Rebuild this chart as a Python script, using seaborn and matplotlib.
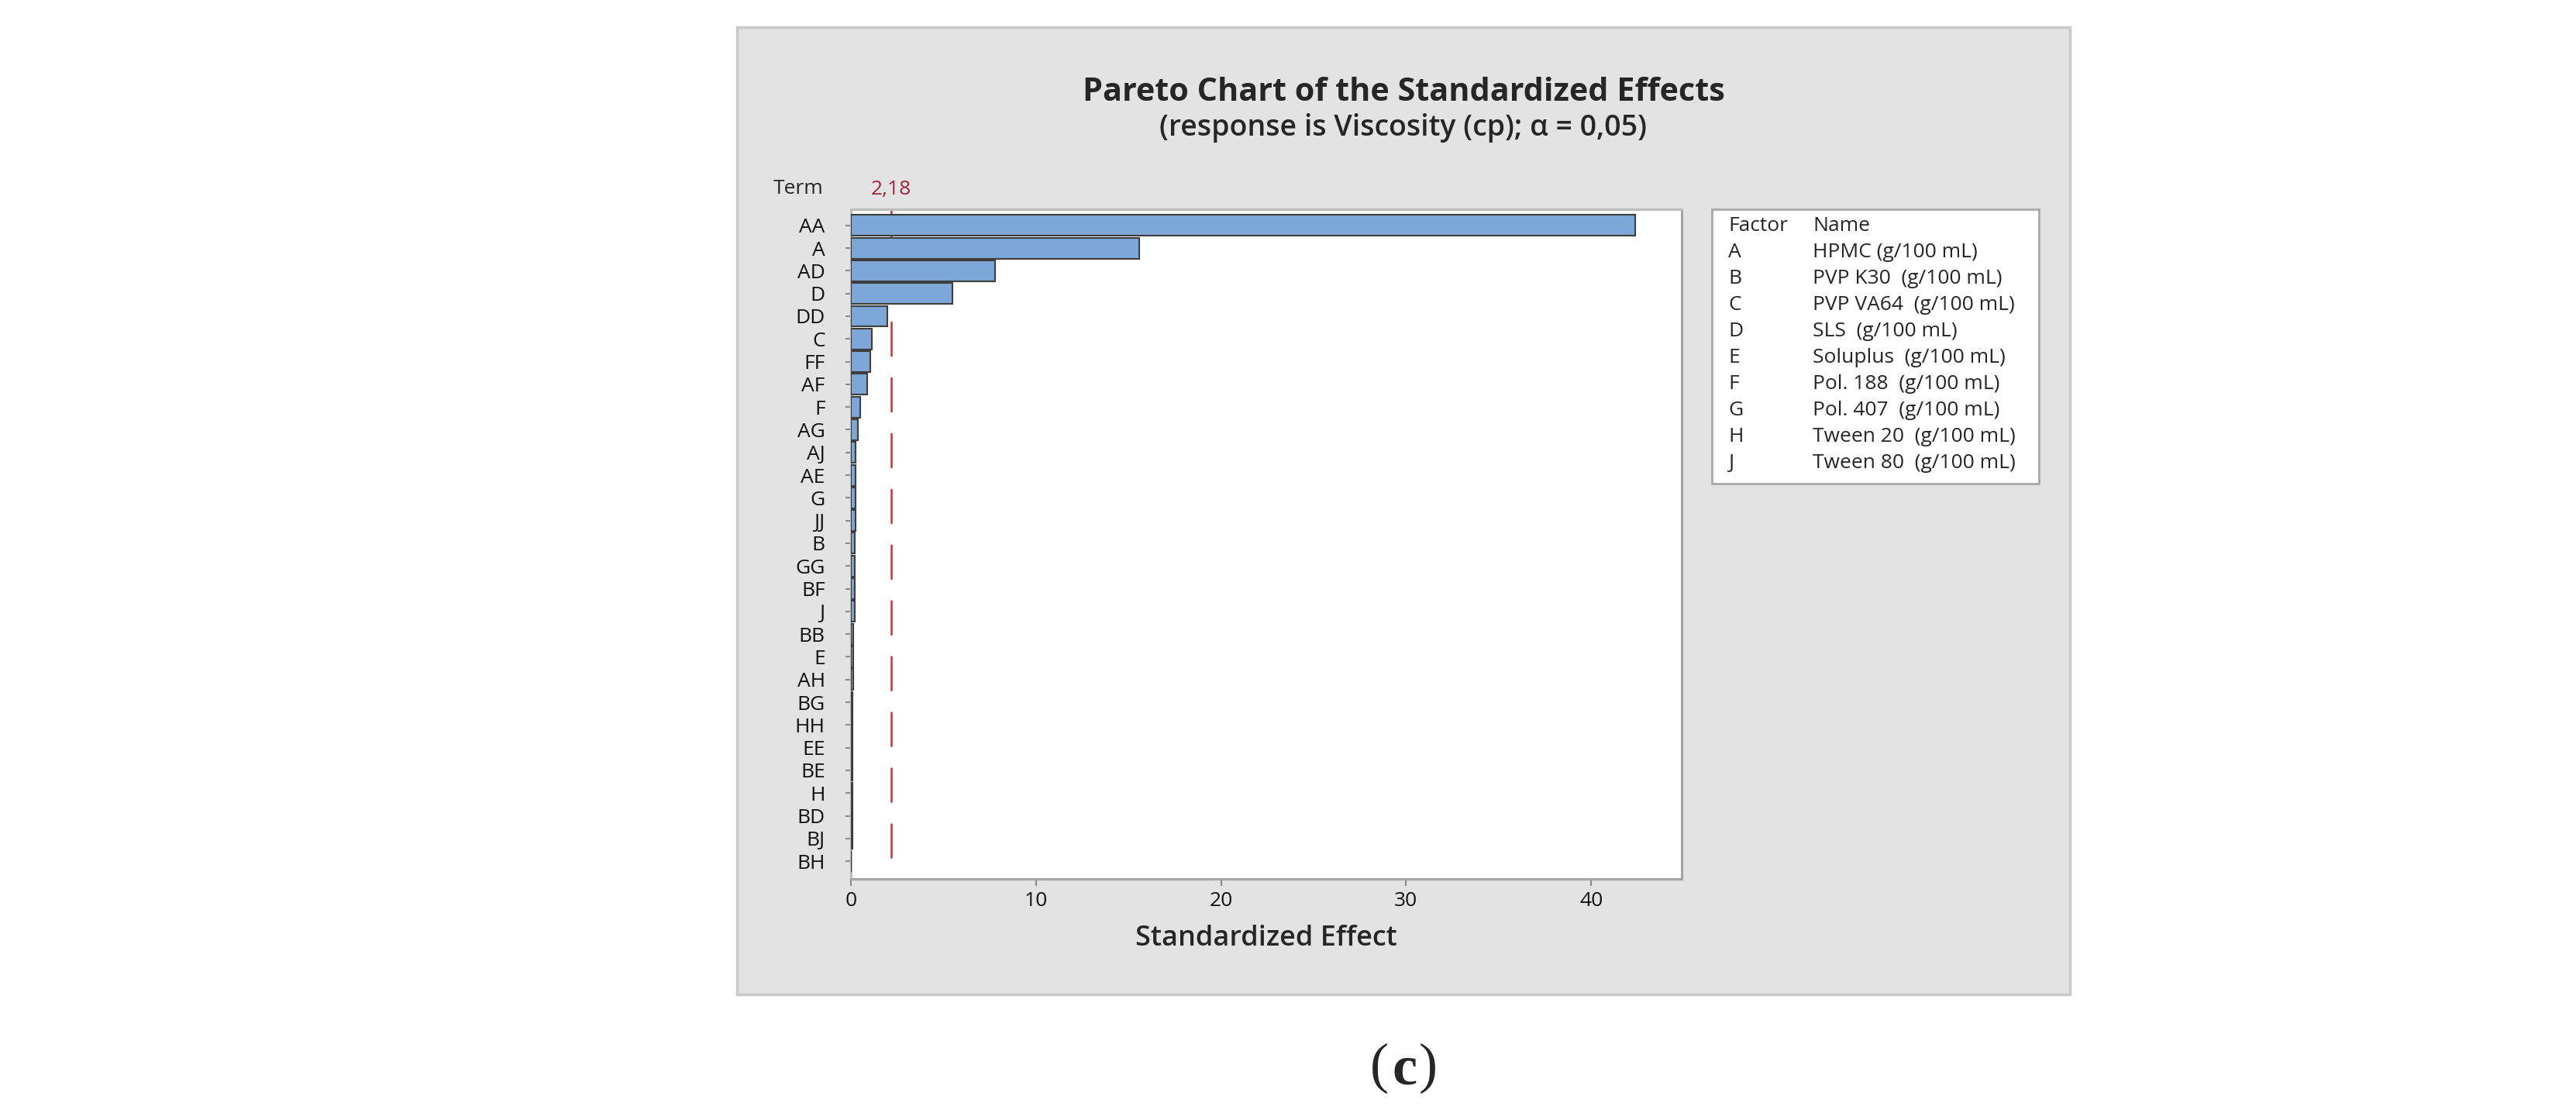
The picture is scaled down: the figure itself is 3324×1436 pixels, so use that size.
import matplotlib
matplotlib.use("Agg")
import matplotlib.pyplot as plt
import seaborn as sns
from matplotlib.patches import Rectangle

terms = ["AA", "A", "AD", "D", "DD", "C", "FF", "AF", "F", "AG", "AJ", "AE", "G", "JJ", "B",
         "GG", "BF", "J", "BB", "E", "AH", "BG", "HH", "EE", "BE", "H", "BD", "BJ", "BH"]
effects = [42.4, 15.6, 7.8, 5.5, 1.95, 1.15, 1.03, 0.9, 0.5, 0.36, 0.26, 0.25, 0.24, 0.24, 0.23,
           0.23, 0.22, 0.22, 0.12, 0.11, 0.11, 0.10, 0.10, 0.10, 0.09, 0.08, 0.08, 0.07, 0.02]
critical = 2.18
factors = ["A", "B", "C", "D", "E", "F", "G", "H", "J"]
names = ["HPMC (g/100 mL)", "PVP K30  (g/100 mL)", "PVP VA64  (g/100 mL)", "SLS  (g/100 mL)",
         "Soluplus  (g/100 mL)", "Pol. 188  (g/100 mL)", "Pol. 407  (g/100 mL)",
         "Tween 20  (g/100 mL)", "Tween 80  (g/100 mL)"]
xticks = [0, 10, 20, 30, 40]

sns.set_style("white")
plt.rcParams['font.family'] = ['Open Sans', 'DejaVu Sans']

W, H = 3324, 1436
fig = plt.figure(figsize=(W / 100, H / 100), dpi=100)
fig.patch.set_facecolor("white")


def fx(x):
    return x / W


def fy(y):
    return 1 - y / H


# gray panel behind the chart
fig.patches.append(Rectangle((fx(951), fy(1283)), (2671 - 951) / W, (1283 - 35) / H,
                             transform=fig.transFigure, facecolor="#E3E3E3",
                             edgecolor="#C9C9C9", linewidth=2.5, zorder=-5))

ax = fig.add_axes([fx(1098), fy(1134), (2170 - 1098) / W, (1134 - 270) / H])
ax.set_zorder(2)
ax.set_facecolor("white")

sns.barplot(x=effects, y=terms, orient="h", color="#7DA7D8", saturation=1, width=0.92,
            edgecolor="#3E3E3E", linewidth=1.5, ax=ax, zorder=3)

# reference line, dashed, behind the bars
lw = 1.8
ax.axvline(critical, color="#E3222B", linewidth=lw, zorder=2,
           linestyle=(32.4 / lw, (32.4 / lw, 19.4 / lw)))
ax.text(critical, 1.029, "2,18", transform=ax.get_xaxis_transform(), ha="center", va="center",
        fontsize=19, color="#A3243B", clip_on=False)

ax.set_xlim(0, 44.9)
ax.set_ylim(28.78, -0.71)
ax.set_xticks(xticks)
ax.set_xticklabels([str(t) for t in xticks])
ax.tick_params(axis="y", length=5, width=1.5, color="#8A8A8A", pad=19, labelsize=19,
               left=True, labelcolor="#111111")
ax.tick_params(axis="x", length=6.5, width=1.5, color="#8A8A8A", pad=5, labelsize=19,
               bottom=True, labelcolor="#111111")
ax.set_ylabel("")
ax.set_xlabel("Standardized Effect", fontsize=26, fontweight="semibold", labelpad=13)
for side, sp in ax.spines.items():
    sp.set_visible(True)
    sp.set_color("#A3A3A3" if side in ("bottom", "right") else "#BDBDBD")
    sp.set_linewidth(2.2)

fig.text(fx(1063), fy(243), "Term", ha="right", va="center", fontsize=19)

fig.text(fx(1811), fy(119), "Pareto Chart of the Standardized Effects", ha="center",
         va="center", fontsize=29.8, fontweight="bold")
fig.text(fx(1811), fy(165), "(response is Viscosity (cp); \u03b1 = 0,05)", ha="center",
         va="center", fontsize=27, fontweight="semibold")

# factor / name table
fig.patches.append(Rectangle((fx(2209), fy(624)), (2631 - 2209) / W, (624 - 270) / H,
                             transform=fig.transFigure, facecolor="white",
                             edgecolor="#A8A8A8", linewidth=2, zorder=1))
fig.text(fx(2230), fy(292), "Factor", ha="left", va="center", fontsize=19)
fig.text(fx(2339), fy(292), "Name", ha="left", va="center", fontsize=19)
for i, (f, n) in enumerate(zip(factors, names)):
    y = 292 + 33.9 * (i + 1)
    fig.text(fx(2230), fy(y), f, ha="left", va="center", fontsize=19)
    fig.text(fx(2339), fy(y), n, ha="left", va="center", fontsize=19)

# panel caption "(c)"
fig.text(fx(1780), fy(1378), "(", ha="center", va="center", fontsize=52,
         family="Liberation Serif")
fig.text(fx(1813), fy(1381), "c", ha="center", va="center", fontsize=52,
         family="Liberation Serif", fontweight="bold")
fig.text(fx(1843), fy(1378), ")", ha="center", va="center", fontsize=52,
         family="Liberation Serif")

plt.savefig("out.png", dpi=100, facecolor="white")
